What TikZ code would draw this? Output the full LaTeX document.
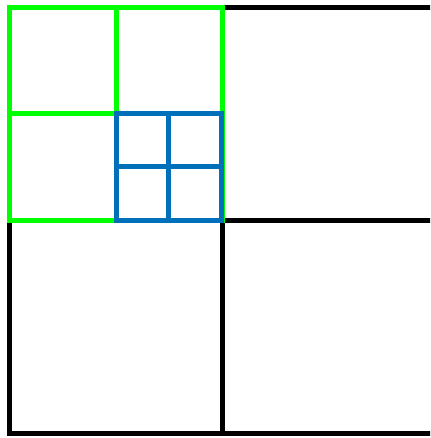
\documentclass[tikz,border=0pt]{standalone}
\definecolor{qgreen}{RGB}{0,255,0}
\definecolor{qblue}{RGB}{0,112,186}
\begin{document}
\begin{tikzpicture}[x=1pt,y=-1pt,
  blackbox/.style={draw=black,line width=5pt},
  greenbox/.style={draw=qgreen,line width=5pt},
  bluebox/.style={draw=qblue,line width=5pt}]
\useasboundingbox (0,0) rectangle (430,438);
\clip (0,0) rectangle (430,438);
% level 0/1 (black)
\draw[blackbox] (9.5,7.5) rectangle (435,433.5);
\draw[blackbox] (222.5,7.5) -- (222.5,433.5);
\draw[blackbox] (9.5,220) -- (435,220);
% level 2 (green)
\draw[greenbox] (9.5,7.5) rectangle (222,220);
\draw[greenbox] (116,7.5) -- (116,220);
\draw[greenbox] (9.5,114) -- (222,114);
% level 3 (blue)
\draw[bluebox] (116,114) rectangle (221,220);
\draw[bluebox] (168.5,114) -- (168.5,220);
\draw[bluebox] (116,167) -- (221,167);
\end{tikzpicture}
\end{document}
